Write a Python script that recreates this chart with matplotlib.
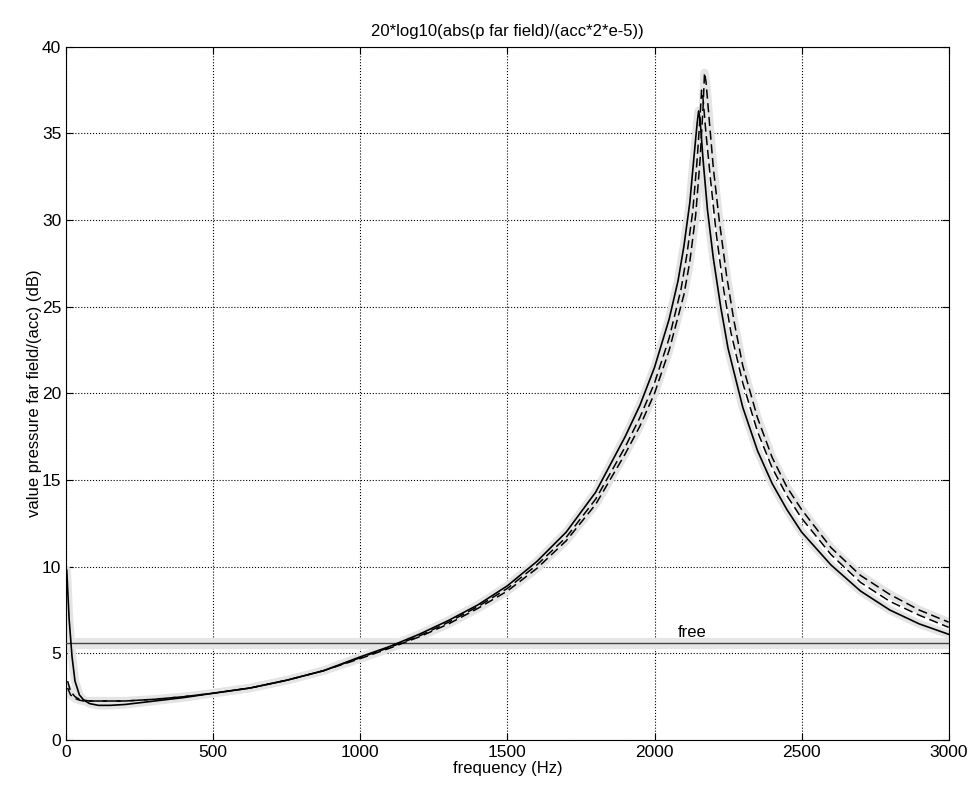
import matplotlib
matplotlib.use("Agg")
import matplotlib.pyplot as plt

plt.rcParams['font.family'] = ['Liberation Sans', 'DejaVu Sans']

# frequency points (Hz)
freq_solid = [2, 10, 20, 30, 45, 60, 80, 110, 150, 200, 300, 400, 500, 625, 750, 875, 1000,
              1100, 1200, 1300, 1400, 1500, 1600, 1700, 1800, 1900, 1950, 2000, 2050,
              2080, 2100, 2120, 2135, 2145, 2150, 2155, 2165, 2180, 2200, 2225, 2250,
              2300, 2350, 2400, 2450, 2500, 2600, 2700, 2800, 2900, 3000]
val_solid = [9.8, 7.0, 4.8, 3.4, 2.6, 2.3, 2.1, 2.0, 2.0, 2.05, 2.25, 2.45, 2.7, 3.0, 3.45, 4.0, 4.8,
             5.4, 6.1, 6.9, 7.8, 8.9, 10.3, 12.0, 14.3, 17.5, 19.3, 21.5, 24.3,
             26.5, 28.5, 31.0, 33.8, 35.6, 36.3, 35.8, 33.5, 30.6, 27.8, 25.0, 22.6,
             19.2, 16.7, 14.8, 13.3, 12.0, 10.1, 8.6, 7.5, 6.7, 6.1]

freq_dash1 = [5, 15, 30, 45, 60, 80, 110, 150, 200, 300, 400, 500, 625, 750, 875, 1000,
              1100, 1200, 1300, 1400, 1500, 1600, 1700, 1800, 1900, 1950, 2000, 2050,
              2090, 2110, 2130, 2145, 2155, 2160, 2165, 2175, 2190, 2210, 2235, 2260,
              2300, 2350, 2400, 2450, 2500, 2600, 2700, 2800, 2900, 3000]
val_dash1 = [3.4, 2.8, 2.5, 2.35, 2.3, 2.25, 2.25, 2.25, 2.25, 2.35, 2.5, 2.7, 3.0, 3.45, 4.0, 4.75,
             5.35, 6.0, 6.8, 7.7, 8.75, 10.1, 11.7, 13.9, 16.9, 18.6, 20.6, 23.2,
             26.0, 28.0, 30.5, 33.5, 36.0, 37.5, 37.0, 35.0, 32.4, 29.2, 26.0, 23.5,
             20.6, 17.8, 15.7, 14.1, 12.8, 10.7, 9.1, 8.0, 7.2, 6.5]

freq_dash2 = [5, 15, 30, 45, 60, 80, 110, 150, 200, 300, 400, 500, 625, 750, 875, 1000,
              1100, 1200, 1300, 1400, 1500, 1600, 1700, 1800, 1900, 1950, 2000, 2050,
              2100, 2120, 2140, 2155, 2165, 2170, 2175, 2185, 2200, 2220, 2245, 2270,
              2300, 2350, 2400, 2450, 2500, 2600, 2700, 2800, 2900, 3000]
val_dash2 = [3.0, 2.6, 2.4, 2.3, 2.25, 2.25, 2.25, 2.25, 2.25, 2.35, 2.5, 2.7, 3.0, 3.45, 4.0, 4.7,
             5.3, 5.95, 6.7, 7.6, 8.6, 9.9, 11.5, 13.6, 16.5, 18.1, 20.0, 22.5,
             25.7, 27.6, 30.3, 33.5, 36.5, 38.5, 38.0, 36.0, 33.0, 30.0, 26.8, 24.2,
             21.6, 18.6, 16.3, 14.6, 13.3, 11.1, 9.5, 8.4, 7.5, 6.8]

free_level = 5.6
x_lim = (0, 3000)
y_lim = (0, 40)
x_ticks = [0, 500, 1000, 1500, 2000, 2500, 3000]
y_ticks = [0, 5, 10, 15, 20, 25, 30, 35, 40]

fig = plt.figure(figsize=(9.73, 7.94), dpi=100)
ax = fig.add_axes([0.068, 0.068, 0.907, 0.873])

halo = dict(color='#e4e4e4', lw=6, solid_capstyle='round', zorder=1)
ax.plot(freq_solid, val_solid, **halo)
ax.plot(freq_dash2, val_dash2, **halo)
ax.axhline(free_level, color='#e6e6e6', lw=8, zorder=1)

ax.axhline(free_level, color='#444444', lw=1.0, zorder=3)
ax.plot(freq_solid, val_solid, color='black', lw=1.2, zorder=4)
ax.plot(freq_dash1, val_dash1, color='black', lw=1.1, ls=(0, (6, 3)), zorder=4)
ax.plot(freq_dash2, val_dash2, color='black', lw=1.1, ls=(0, (6, 3)), zorder=4)
ax.text(2080, free_level + 0.15, 'free', fontsize=12, ha='left', va='bottom', zorder=5)

ax.set_xlim(*x_lim)
ax.set_ylim(*y_lim)
ax.set_xticks(x_ticks)
ax.set_yticks(y_ticks)
ax.tick_params(direction='in', top=True, right=True, labelsize=12.5, length=5)
ax.grid(True, color='black', ls=':', lw=0.8)
ax.set_axisbelow(True)

ax.set_title('20*log10(abs(p far field)/(acc*2*e-5))', fontsize=12, pad=8)
ax.set_xlabel('frequency (Hz)', fontsize=12, labelpad=1)
ax.set_ylabel('value pressure far field/(acc) (dB)', fontsize=12, labelpad=0)

fig.savefig('out.png', dpi=100)
